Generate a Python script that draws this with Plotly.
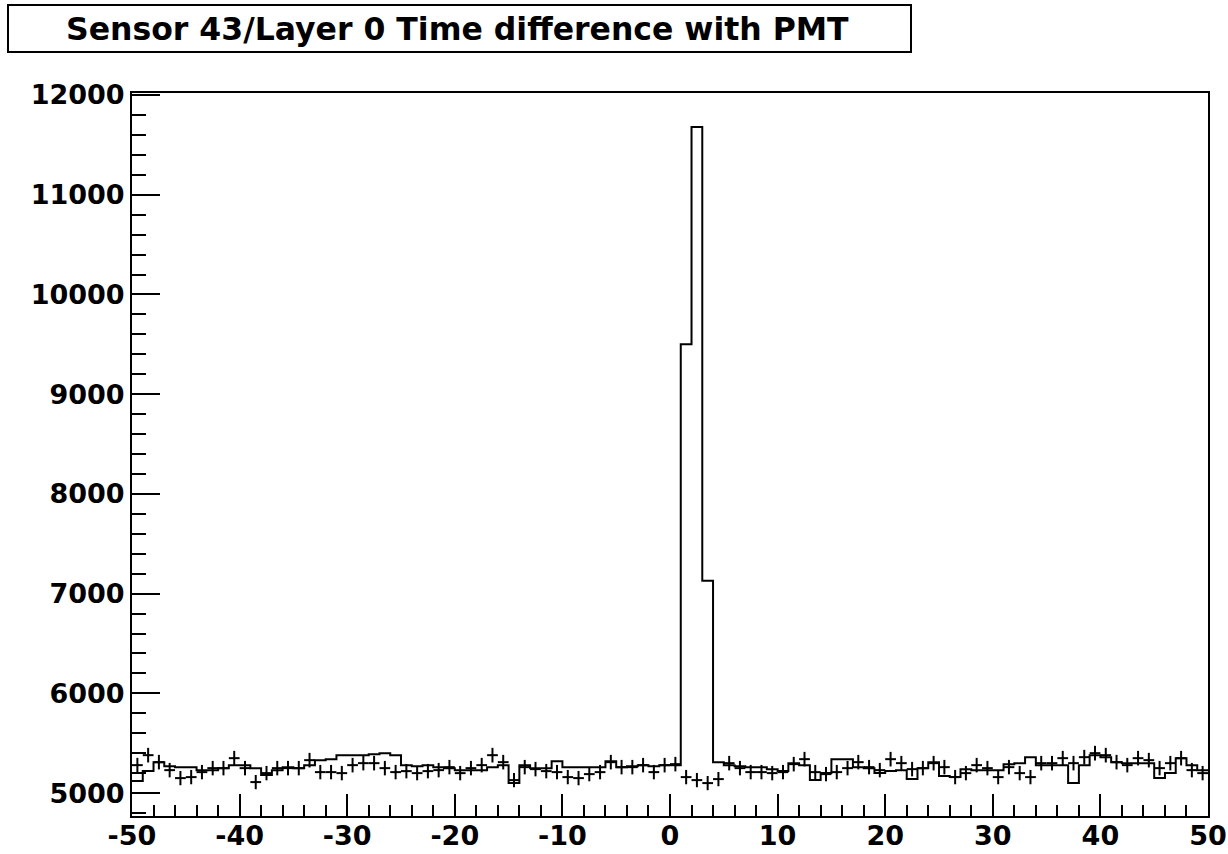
import numpy as np
import plotly.graph_objects as go

# Bin edges: 100 bins of width 1 from -50 to 50
bin_low = list(range(-50, 50))

# Step-histogram contents (one per bin, -50 .. 49)
hist_values = [
    5120, 5220, 5310, 5270, 5260, 5260, 5230, 5230, 5250, 5280,   # -50..-41
    5280, 5250, 5180, 5230, 5260, 5250, 5280, 5330, 5340, 5380,   # -40..-31
    5380, 5380, 5390, 5400, 5380, 5280, 5270, 5280, 5260, 5250,   # -30..-21
    5230, 5230, 5230, 5260, 5280, 5100, 5280, 5250, 5250, 5320,   # -20..-11
    5260, 5260, 5260, 5260, 5320, 5260, 5270, 5280, 5270, 5280,   # -10..-1
    5280, 9500, 11680, 7130, 5310, 5280, 5270, 5260, 5260, 5240,  # 0..9
    5220, 5300, 5280, 5130, 5200, 5340, 5340, 5260, 5250, 5200,   # 10..19
    5220, 5230, 5140, 5250, 5310, 5170, 5160, 5240, 5230, 5230,   # 20..29
    5230, 5290, 5300, 5360, 5280, 5280, 5280, 5100, 5280, 5380,   # 30..39
    5360, 5310, 5300, 5300, 5300, 5150, 5200, 5350, 5280, 5230,   # 40..49
]

# Second histogram drawn as points with error bars (one per bin)
point_values = [
    5280, 5380, 5310, 5230, 5150, 5160, 5210, 5250, 5250, 5350,   # -50..-41
    5250, 5110, 5200, 5250, 5250, 5250, 5330, 5210, 5210, 5200,   # -40..-31
    5280, 5300, 5300, 5250, 5210, 5220, 5200, 5220, 5230, 5260,   # -30..-21
    5200, 5250, 5280, 5380, 5310, 5130, 5260, 5240, 5220, 5210,   # -20..-11
    5160, 5150, 5190, 5210, 5310, 5260, 5260, 5280, 5210, 5280,   # -10..-1
    5290, 5160, 5130, 5100, 5140, 5300, 5250, 5210, 5210, 5200,   # 0..9
    5210, 5290, 5340, 5210, 5190, 5210, 5250, 5310, 5260, 5230,   # 10..19
    5340, 5300, 5240, 5250, 5300, 5260, 5160, 5200, 5280, 5250,   # 20..29
    5160, 5260, 5200, 5160, 5300, 5300, 5350, 5300, 5360, 5400,   # 30..39
    5380, 5310, 5280, 5350, 5330, 5250, 5300, 5350, 5230, 5200,   # 40..49
]

x_tick_values = [-50, -40, -30, -20, -10, 0, 10, 20, 30, 40, 50]
x_tick_labels = ["-50", "-40", "-30", "-20", "-10", "0", "10", "20", "30", "40", "50"]
y_tick_values = [5000, 6000, 7000, 8000, 9000, 10000, 11000, 12000]
y_tick_labels = ["5000", "6000", "7000", "8000", "9000", "10000", "11000", "12000"]

title_text = "Sensor 43/Layer 0 Time difference with PMT"

# ---- build figure ----
edges = bin_low + [bin_low[-1] + 1]
step_y = hist_values + [hist_values[-1]]
centers = [b + 0.5 for b in bin_low]
errs = [float(np.sqrt(v)) for v in point_values]

W, H = 1228, 854
L, R, T, B = 132, 20, 93, 38
pw, ph = W - L - R, H - T - B


def px_to_paper(px, py):
    return (px - L) / pw, (H - B - py) / ph


fig = go.Figure()
fig.add_trace(go.Scatter(
    x=edges, y=step_y, mode="lines", line=dict(color="black", width=2, shape="hv"),
    showlegend=False, hoverinfo="skip",
))
fig.add_trace(go.Scatter(
    x=centers, y=point_values, mode="markers",
    marker=dict(color="black", size=2),
    error_x=dict(type="constant", value=0.5, width=0, thickness=2, color="black"),
    error_y=dict(type="data", array=errs, width=0, thickness=2, color="black"),
    showlegend=False,
))

tickfont = dict(family="DejaVu Sans", size=27, color="black", weight="bold")

fig.update_xaxes(
    range=[-50, 50], tickmode="array", tickvals=x_tick_values, ticktext=x_tick_labels,
    ticks="inside", ticklen=22, tickwidth=2, tickcolor="black",
    minor=dict(ticks="inside", dtick=2, tick0=0, ticklen=11, tickwidth=2, tickcolor="black"),
    showline=True, linecolor="black", linewidth=2, mirror=True,
    showgrid=False, zeroline=False, tickfont=tickfont, ticklabelstandoff=-5,
)
fig.update_yaxes(
    range=[4770, 12020], tickmode="array", tickvals=y_tick_values, ticktext=y_tick_labels,
    ticks="inside", ticklen=28, tickwidth=2, tickcolor="black",
    minor=dict(ticks="inside", dtick=200, tick0=0, ticklen=14, tickwidth=2, tickcolor="black"),
    showline=True, linecolor="black", linewidth=2, mirror=True,
    showgrid=False, zeroline=False, tickfont=tickfont, ticklabelstandoff=0,
)

x0, y0 = px_to_paper(8, 5)
x1, y1 = px_to_paper(911, 52)
fig.add_shape(type="rect", xref="paper", yref="paper", x0=x0, y0=y1, x1=x1, y1=y0,
              line=dict(color="black", width=2), fillcolor="white")
cx, cy = px_to_paper(457, 29)
fig.add_annotation(x=cx, y=cy, xref="paper", yref="paper", text=title_text, showarrow=False,
                   xanchor="center", yanchor="middle",
                   font=dict(family="DejaVu Sans", size=31.5, color="black", weight="bold"))

fig.update_layout(
    width=W, height=H, margin=dict(l=L, r=R, t=T, b=B, autoexpand=False),
    paper_bgcolor="white", plot_bgcolor="white",
)

fig.write_html(
    "out.html",
    config={"displayModeBar": False},
    post_script="document.body.style.margin='0';document.body.style.overflow='hidden';",
)
